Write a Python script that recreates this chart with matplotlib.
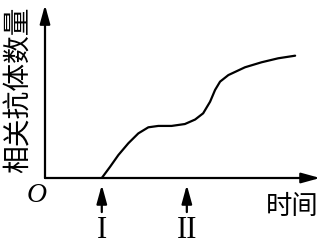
import numpy as np
import matplotlib.pyplot as plt

plt.rcParams['font.family'] = ['Noto Sans CJK SC', 'DejaVu Sans']

# curve (time, relative antibody amount)
time_pts = [20.5, 23.5, 26.5, 30.1, 33.7, 37.3, 40.9, 45.7, 50.5, 54.2, 57.1,
            59.6, 61.4, 63.2, 66.2, 72.2, 78.2, 84.2, 90.3]
antibody = [0.0, 6.5, 13.3, 20.1, 25.8, 29.3, 30.1, 30.1, 31.2, 33.8, 37.4,
            44.1, 50.9, 55.7, 59.5, 64.0, 66.9, 69.2, 70.7]

# injection moments marked under the time axis
marks = [20.5, 51.2]
mark_labels = ['I', 'II']

ylabel = '相关抗体数量'
xlabel = '时间'

fig = plt.figure(figsize=(3.23, 2.46), dpi=100)
ax = fig.add_axes([45 / 323, 68 / 246, 277 / 323, 173 / 246])
ax.set_xlim(0, 100)
ax.set_ylim(0, 100)
ax.axis('off')

ax.plot(time_pts, antibody, color='black', lw=1.6, solid_capstyle='round',
        solid_joinstyle='round')

arrow = dict(arrowstyle='-|>,head_length=0.8,head_width=0.22', color='black',
             lw=1.6, shrinkA=0, shrinkB=0, mutation_scale=14)
# axes
ax.annotate('', xy=(99.3, 0), xytext=(0, 0), arrowprops=arrow, annotation_clip=False)
ax.annotate('', xy=(0, 100), xytext=(0, 0), arrowprops=arrow, annotation_clip=False)

# stage arrows and labels
for x, lab in zip(marks, mark_labels):
    ax.annotate('', xy=(x, -4.0), xytext=(x, -19.7), arrowprops=arrow,
                annotation_clip=False)
    ax.text(x, -34.7, lab, family='Liberation Serif', fontsize=22,
            ha='center', va='baseline', clip_on=False)

ax.text(-2.9, -10.1, 'O', family='Liberation Serif', style='italic',
        fontsize=20, ha='center', va='center', clip_on=False)
ax.text(89.2, -16.2, xlabel, fontsize=19, ha='center', va='center',
        clip_on=False)
ax.text(-9.4, 51.0, ylabel, fontsize=20, rotation=90, ha='center',
        va='center', clip_on=False)

fig.savefig('out.png', dpi=100)
